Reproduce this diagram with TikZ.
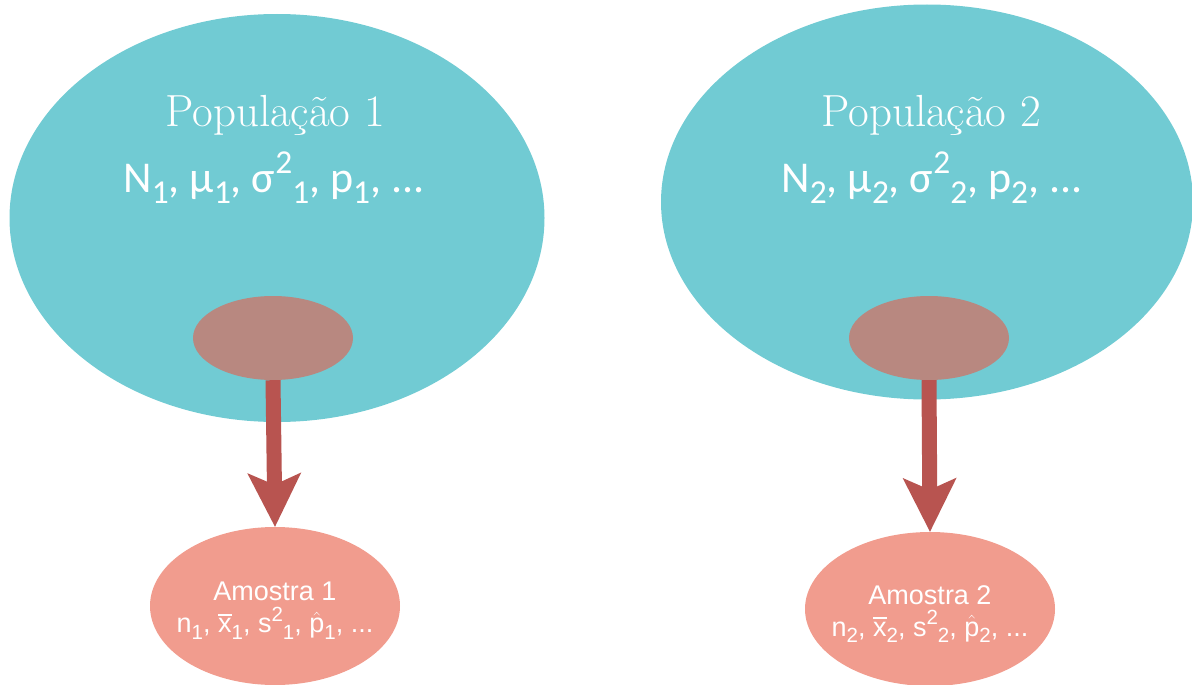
\documentclass[tikz,border=0pt]{standalone}
\usepackage{fontspec}
\newfontfamily\carl{Carlito}
\newfontfamily\arl{Liberation Sans}
\usetikzlibrary{shapes.geometric,arrows.meta}
\definecolor{popfill}{HTML}{71CBD3}
\definecolor{selfill}{HTML}{B88880}
\definecolor{arrcol}{HTML}{B85450}
\definecolor{amofill}{HTML}{F19C8E}
\tikzset{
  pop/.style={ellipse, fill=popfill, draw=none, inner sep=0pt},
  sel/.style={ellipse, fill=selfill, draw=none, inner sep=0pt, minimum width=160pt, minimum height=84pt},
  amo/.style={ellipse, fill=amofill, draw=none, inner sep=0pt, minimum width=250pt},
  amotext/.style={text=white, align=center, inner sep=0pt, yshift=-5pt, font=\arl\fontsize{27}{32}\selectfont},
  poptitle/.style={text=white, anchor=base, inner sep=0pt, font=\fontsize{45}{50}\selectfont},
  popparam/.style={text=white, anchor=base, inner sep=0pt, font=\carl\fontsize{44}{50}\selectfont},
  samplearrow/.style={line width=15pt, draw=arrcol,
    -{Stealth[length=54pt, width=54pt, inset=12pt, line width=0pt]}}
}
\newcommand{\sbs}[1]{\raisebox{-0.25em}{\scalebox{0.76}{#1}}}
\newcommand{\sps}[1]{\raisebox{0.42em}{\scalebox{0.76}{#1}}}
\newcommand{\xbar}{\leavevmode\rlap{\raisebox{0.64em}{\rule{0.5em}{0.065em}}}x}
\newcommand{\phat}{$\hat{\hbox{p}}$}
\begin{document}
\begin{tikzpicture}[x=1pt,y=-1pt]
\useasboundingbox (0,0) rectangle (1192,685);
% populations
\node[pop, minimum width=535pt, minimum height=408pt] (pop1) at (277,218) {};
\node[pop, minimum width=532pt, minimum height=395pt] (pop2) at (927,202) {};
% selected parts
\node[sel] (sel1) at (273,338) {};
\node[sel] (sel2) at (929,338) {};
% samples
\node[amo, minimum height=158pt] (amo1) at (275,606) {};
\node[amo, minimum height=154pt] (amo2) at (930,609) {};
\node[amotext] (at1) at (amo1.center)
  {Amostra 1\\n\sbs{1}, \xbar\sbs{1}, s\sps{2}\sbs{1}, \phat\sbs{1}, ...};
\node[amotext] (at2) at (amo2.center)
  {Amostra 2\\n\sbs{2}, \xbar\sbs{2}, s\sps{2}\sbs{2}, \phat\sbs{2}, ...};
% texts
\node[poptitle] (t1) at (275,126) {População 1};
\node[poptitle] (t2) at (931,126) {População 2};
\node[popparam] (p1) at (274,192) {N\sbs{1}, μ\sbs{1}, σ\sps{2}\sbs{1}, p\sbs{1}, ...};
\node[popparam] (p2) at (932,192) {N\sbs{2}, μ\sbs{2}, σ\sps{2}\sbs{2}, p\sbs{2}, ...};
% arrows
\draw[samplearrow] (sel1.south) -- (amo1.north);
\draw[samplearrow] (sel2.south) -- (amo2.north);
\end{tikzpicture}
\end{document}
